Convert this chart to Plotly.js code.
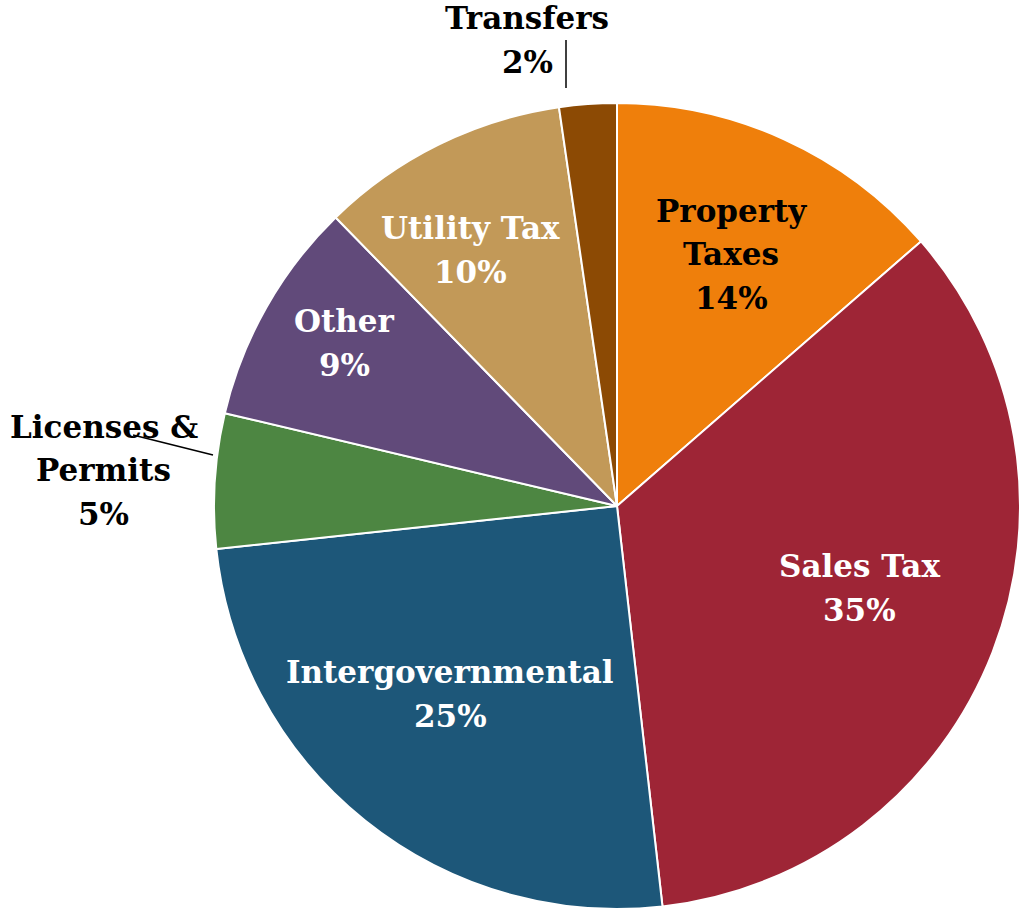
<!DOCTYPE html>
<html>
<head>
<meta charset="utf-8">
<script src="https://cdn.plot.ly/plotly-3.0.1.min.js"></script>
<style>html,body{margin:0;padding:0;background:#fff;}#chart{width:1028px;height:910px;}</style>
</head>
<body>
<div id="chart"></div>
<script>
const categories = ["Property Taxes", "Sales Tax", "Intergovernmental", "Licenses & Permits", "Other", "Utility Tax", "Transfers"];
const displayNames = ["Property<br>Taxes", "Sales Tax", "Intergovernmental", "Licenses &<br>Permits", "Other", "Utility Tax", "Transfers"];
const values = [13.6, 34.6, 25.1, 5.4, 9.0, 10.0, 2.3];
const colors = ["#EF7F0B", "#9E2536", "#1D5779", "#4D8642", "#614A7A", "#C29958", "#8C4A04"];
const textColors = ["#000000", "#ffffff", "#ffffff", "#000000", "#ffffff", "#ffffff", "#000000"];

const total = values.reduce((a, b) => a + b, 0);
const pct = values.map(v => Math.round(v / total * 100) + "%");

const W = 1028, H = 910;
const M = { l: 214, r: 8, t: 103, b: 1 };
const PW = W - M.l - M.r, PH = H - M.t - M.b;
const fx = X => (X - M.l) / PW, fy = Y => (H - M.b - Y) / PH;

const font = "'DejaVu Serif', 'Liberation Serif', serif";
const lineGap = 43.5;

// label block centres in figure pixels (layout only)
const labelPos = [[731, 254], [859, 588], [450, 694], [104, 470], [344, 343], [470, 250], [527, 40]];

const trace = {
  type: "pie",
  labels: categories,
  values: values,
  textinfo: "none",
  sort: false,
  direction: "clockwise",
  rotation: 0,
  marker: { colors: colors, line: { color: "#ffffff", width: 2 } },
  hoverinfo: "label+percent",
  showlegend: false
};

const annotations = [];
categories.forEach((c, i) => {
  const lines = displayNames[i].split("<br>").concat([pct[i]]);
  const n = lines.length;
  lines.forEach((t, k) => {
    annotations.push({
      text: "<b>" + t + "</b>",
      x: fx(labelPos[i][0]), y: fy(labelPos[i][1] + (k - (n - 1) / 2) * lineGap),
      xref: "paper", yref: "paper", xanchor: "center", yanchor: "middle",
      showarrow: false,
      font: { family: font, size: 31, color: textColors[i] }
    });
  });
});

const shapes = [
  { type: "line", xref: "paper", yref: "paper", x0: fx(133), y0: fy(435), x1: fx(213), y1: fy(455), line: { color: "#000", width: 1.5 } },
  { type: "line", xref: "paper", yref: "paper", x0: fx(566), y0: fy(40), x1: fx(566), y1: fy(88), line: { color: "#000", width: 1.5 } }
];

const layout = {
  width: W, height: H,
  margin: { l: M.l, r: M.r, t: M.t, b: M.b, pad: 0 },
  paper_bgcolor: "#ffffff",
  plot_bgcolor: "#ffffff",
  annotations: annotations,
  shapes: shapes,
  showlegend: false
};

Plotly.newPlot("chart", [trace], layout, { displayModeBar: false, staticPlot: true });
</script>
</body>
</html>
